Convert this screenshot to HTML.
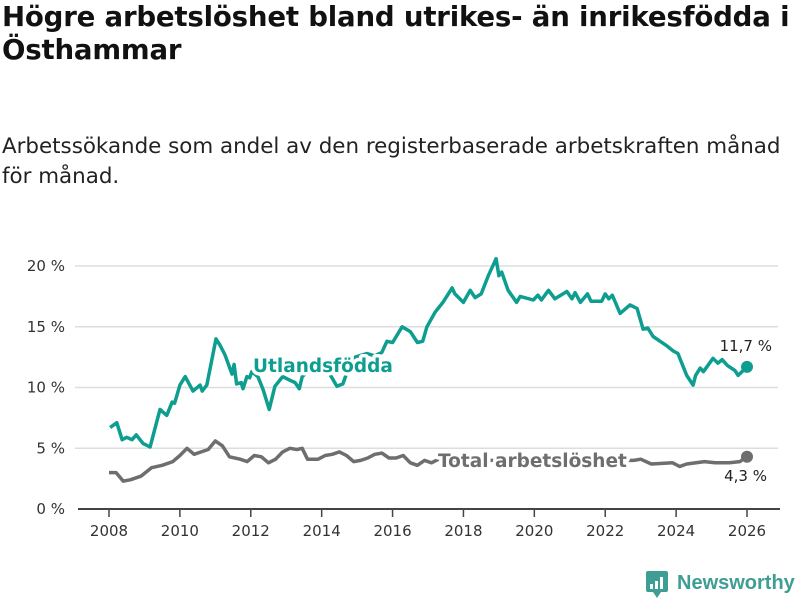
<!DOCTYPE html>
<html><head><meta charset="utf-8"><style>
body{margin:0;background:#fff;width:800px;height:600px;overflow:hidden;font-family:"DejaVu Sans",sans-serif;color:#111}
h1{position:absolute;left:2px;top:0;margin:0;font-size:27.6px;line-height:33px;font-weight:bold;white-space:nowrap;letter-spacing:-0.2px}
p{position:absolute;left:2px;top:132px;margin:0;font-size:21.4px;line-height:30px;white-space:nowrap;color:#222}
svg{position:absolute;left:0;top:0}
</style></head><body>
<h1>Högre arbetslöshet bland utrikes- än inrikesfödda i<br>Östhammar</h1>
<p>Arbetssökande som andel av den registerbaserade arbetskraften månad<br>för månad.</p>
<svg id="chart" width="800" height="600" font-family="DejaVu Sans, sans-serif"></svg>
<script>
const yTicks=[0,5,10,15,20];
const yTickLabels=["0 %","5 %","10 %","15 %","20 %"];
const xTicks=[2008,2010,2012,2014,2016,2018,2020,2022,2024,2026];
const foreignX=[2008.03,2008.22,2008.37,2008.5,2008.65,2008.77,2008.96,2009.16,2009.44,2009.63,2009.78,2009.85,2010.0,2010.15,2010.37,2010.57,2010.63,2010.76,2011.02,2011.13,2011.27,2011.47,2011.53,2011.6,2011.73,2011.78,2011.89,2011.97,2012.03,2012.2,2012.35,2012.52,2012.68,2012.9,2013.1,2013.25,2013.37,2013.45,2013.53,2013.8,2014.0,2014.23,2014.43,2014.6,2014.72,2014.95,2015.28,2015.5,2015.7,2015.84,2016.0,2016.27,2016.5,2016.7,2016.85,2016.97,2017.2,2017.42,2017.68,2017.76,2018.0,2018.19,2018.33,2018.5,2018.7,2018.92,2019.0,2019.08,2019.26,2019.5,2019.6,2019.97,2020.1,2020.2,2020.4,2020.58,2020.92,2021.06,2021.15,2021.3,2021.5,2021.6,2021.9,2022.0,2022.1,2022.2,2022.42,2022.7,2022.9,2023.07,2023.2,2023.35,2023.55,2023.75,2023.92,2024.05,2024.3,2024.48,2024.55,2024.68,2024.77,2025.04,2025.18,2025.3,2025.45,2025.66,2025.75,2025.86,2026.0];
const foreignY=[6.7,7.1,5.7,5.9,5.7,6.1,5.4,5.1,8.2,7.7,8.8,8.7,10.2,10.9,9.7,10.2,9.7,10.2,14.0,13.5,12.7,11.1,11.9,10.3,10.4,9.9,10.9,10.8,11.3,10.9,9.8,8.2,10.1,10.9,10.6,10.4,9.9,10.9,11.1,11.4,11.5,11.1,10.1,10.3,11.3,12.5,12.8,12.6,12.9,13.8,13.7,15.0,14.6,13.7,13.8,15.0,16.2,17.0,18.2,17.7,17.0,18.0,17.4,17.7,19.2,20.6,19.2,19.5,18.0,17.0,17.5,17.2,17.6,17.2,18.0,17.3,17.9,17.3,17.8,17.0,17.7,17.1,17.1,17.7,17.3,17.6,16.1,16.8,16.5,14.8,14.9,14.2,13.8,13.4,13.0,12.8,11.0,10.2,11.0,11.6,11.3,12.4,12.0,12.3,11.8,11.4,11.0,11.3,11.7];
const totalX=[2008.0,2008.2,2008.4,2008.6,2008.9,2009.2,2009.5,2009.8,2010.0,2010.2,2010.4,2010.6,2010.8,2011.0,2011.2,2011.4,2011.7,2011.9,2012.1,2012.3,2012.5,2012.7,2012.9,2013.1,2013.3,2013.45,2013.6,2013.9,2014.1,2014.3,2014.5,2014.7,2014.9,2015.1,2015.3,2015.5,2015.7,2015.9,2016.1,2016.3,2016.5,2016.7,2016.9,2017.1,2017.3,2017.5,2018.0,2019.0,2020.0,2021.0,2022.0,2022.8,2023.0,2023.3,2023.9,2024.1,2024.3,2024.8,2025.1,2025.5,2025.8,2026.0];
const totalY=[3.0,3.0,2.3,2.4,2.7,3.4,3.6,3.9,4.4,5.0,4.5,4.7,4.9,5.6,5.2,4.3,4.1,3.9,4.4,4.3,3.8,4.1,4.7,5.0,4.9,5.0,4.1,4.1,4.4,4.5,4.7,4.4,3.9,4.0,4.2,4.5,4.6,4.2,4.2,4.4,3.8,3.6,4.0,3.8,4.1,4.0,4.0,4.0,4.0,4.0,4.0,4.0,4.1,3.7,3.8,3.5,3.7,3.9,3.8,3.8,3.9,4.3];
const svg=document.getElementById('chart');const NS='http://www.w3.org/2000/svg';
const xS=v=>109+(v-2008)*(638/18);const yS=v=>509-v*12.15;
function mk(t,a,p){const e=document.createElementNS(NS,t);for(const k in a)e.setAttribute(k,a[k]);(p||svg).appendChild(e);return e;}
yTicks.forEach((t,i)=>{
 if(t>0){const g=mk('line',{x1:75,x2:778,y1:yS(t),y2:yS(t),stroke:'#ddd','stroke-width':1.5});
 
 }
 const l=mk('text',{x:65,y:yS(t)+5,'text-anchor':'end','font-size':15,fill:'#333'});l.textContent=yTickLabels[i];
 
 
});
const ax=mk('line',{x1:78,x2:780,y1:509,y2:509,stroke:'#444','stroke-width':2});


xTicks.forEach(t=>{
 const tk=mk('line',{x1:xS(t),x2:xS(t),y1:509,y2:517,stroke:'#444','stroke-width':1.5});
 
 
 const l=mk('text',{x:xS(t),y:536,'text-anchor':'middle','font-size':15,fill:'#333'});l.textContent=t;
 
 
});
function line(xs,ys,c,name){
 const d=xs.map((x,i)=>(i?'L':'M')+xS(x).toFixed(1)+','+yS(ys[i]).toFixed(1)).join('');
 const p=mk('path',{d:d,fill:'none',stroke:c,'stroke-width':3.5,'stroke-linejoin':'round'});
 
 
 const n=xs.length-1;
 const c2=mk('circle',{cx:xS(xs[n]),cy:yS(ys[n]),r:6,fill:c});
 
 
}
line(totalX,totalY,'#6e6e6e','total-line');
line(foreignX,foreignY,'#0d9e8f','foreign-born-line');
function lab(x,y,t,c,name,w,anchor,size){
 const e=mk('text',{x:x,y:y,fill:c,'font-size':size,'font-weight':w,'text-anchor':anchor||'start',stroke:'#fff','stroke-width':w==='bold'?7:0,'paint-order':'stroke','stroke-linejoin':'round'});
 e.textContent=t;
 
 
}
lab(253,372,'Utlandsfödda','#0d9e8f','foreign-born-label','bold','start',18.5);
lab(438,467,'Total arbetslöshet','#6e6e6e','total-label','bold','start',18.5);
lab(772,351,'11,7 %','#222','foreign-born-value','normal','end',15);
lab(767,481,'4,3 %','#222','total-value','normal','end',15);
const lg=mk('g',{});
mk('rect',{x:646,y:571,width:22,height:21,rx:2,fill:'#3f9e94'},lg);
mk('path',{d:'M653,592 L657,598 L661,592 Z',fill:'#3f9e94'},lg);
[[650,584,3,5],[655,581,3,8],[660,577,3,12]].forEach(b=>mk('rect',{x:b[0],y:b[1],width:b[2],height:b[3],fill:'#fff'},lg));
const lt=mk('text',{x:677,y:589,fill:'#3f9e94','font-size':20,'font-weight':'bold','font-family':'Liberation Sans, sans-serif'},lg);lt.textContent='Newsworthy';
</script>
</body></html>
